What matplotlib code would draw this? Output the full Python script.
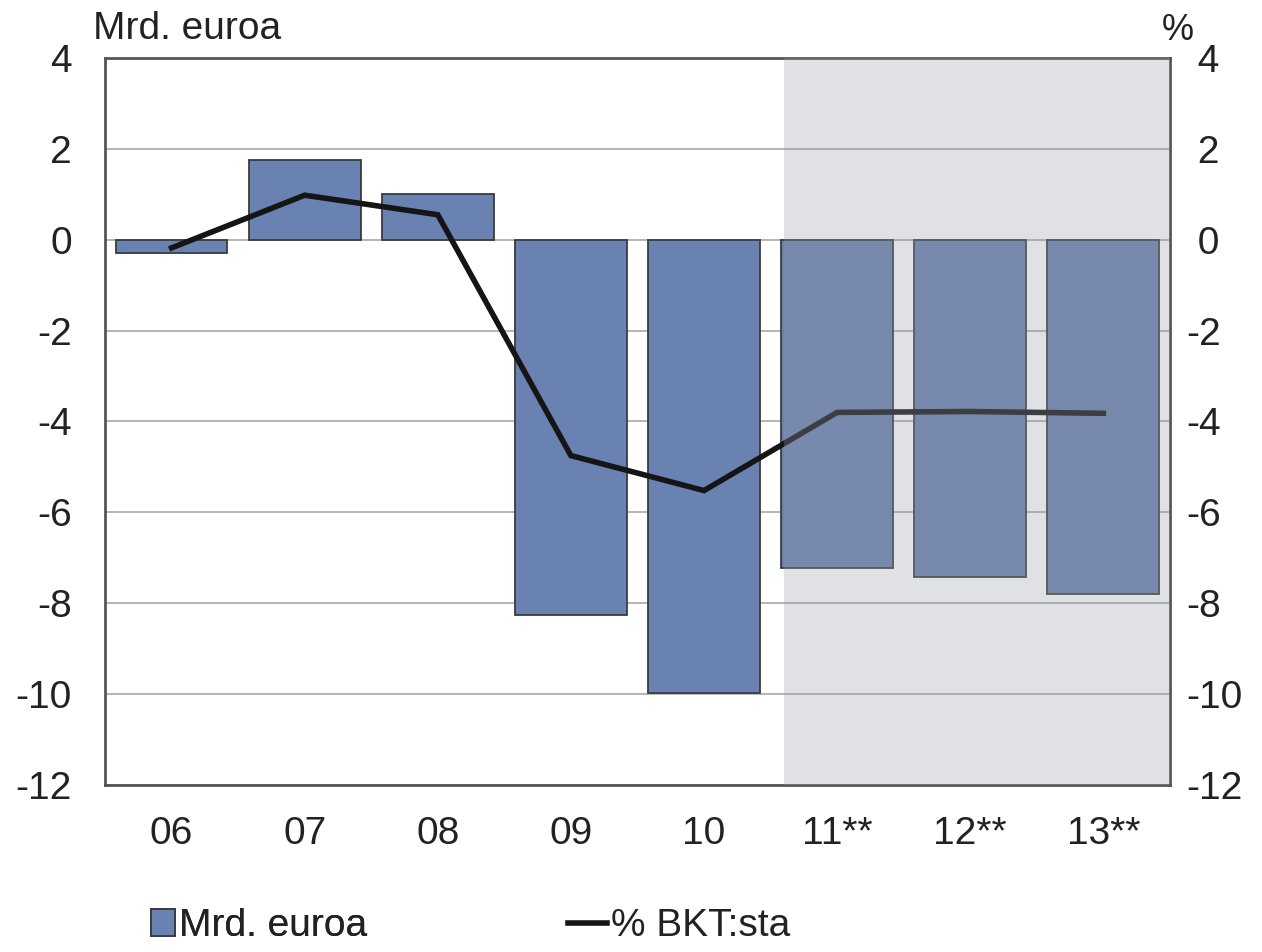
import numpy as np
import matplotlib
matplotlib.use("Agg")
import matplotlib.pyplot as plt
from matplotlib.patches import Patch
from matplotlib.lines import Line2D

plt.rcParams['font.family'] = ['Liberation Sans', 'DejaVu Sans']
plt.rcParams['axes.unicode_minus'] = False

# Data
years = ["06", "07", "08", "09", "10", "11**", "12**", "13**"]
bars_mrd = [-0.3, 1.75, 1.0, -8.25, -9.97, -7.22, -7.42, -7.8]
line_pct = [-0.18, 0.98, 0.55, -4.75, -5.52, -3.8, -3.78, -3.82]
yticks = list(range(-12, 5, 2))
forecast_start = 4.6

bar_col = "#6a82b2"
fs = 28

fig = plt.figure(figsize=(12.62, 9.52), dpi=100)
ax = fig.add_axes([0.0832, 0.1754, 0.8438, 0.7637])

x = np.arange(len(years))
ax.set_axisbelow(True)
ax.grid(True, axis='y', color='#a8a8a8', linewidth=1.2)
ax.bar(x, bars_mrd, width=0.84, color=bar_col, edgecolor='#3a3a3a',
       linewidth=1.3, zorder=2)
ax.plot(x, line_pct, color='#151515', linewidth=4, zorder=3,
        solid_joinstyle='miter')

# forecast shading laid over everything
ax.axvspan(forecast_start, len(years) - 0.5, color='#989ea8', alpha=0.3,
           linewidth=0, zorder=4)

ax.set_xlim(-0.5, len(years) - 0.5)
ax.set_ylim(-12, 4)
ax.set_yticks(yticks)
ax.set_xticks(x)
ax.set_xticklabels(years)
ax.tick_params(axis='x', length=0, pad=22, labelsize=fs, colors='#222222')
ax.tick_params(axis='y', length=0, pad=24, labelsize=fs, colors='#222222')
for s in ax.spines.values():
    s.set_color('#555555')
    s.set_linewidth(2)

# right axis: Excel-style labels, room kept for the minus sign
ax2 = ax.twinx()
ax2.set_ylim(-12, 4)
ax2.set_yticks(yticks)
ax2.set_yticklabels([str(v) if v < 0 else " " + str(v) for v in yticks])
ax2.tick_params(axis='y', length=0, pad=12, labelsize=fs, colors='#222222')
for s in ax2.spines.values():
    s.set_visible(False)

fig.text(0.074, 0.951, "Mrd. euroa", fontsize=fs, color='#222222',
         ha='left', va='bottom')
fig.text(0.946, 0.950, "%", fontsize=fs - 2, color='#222222',
         ha='right', va='bottom')

leg1 = fig.legend(handles=[Patch(facecolor=bar_col, edgecolor='#3a3a3a',
                                 linewidth=1.3)],
                  labels=["Mrd. euroa"], loc='center left',
                  bbox_to_anchor=(0.120, 0.027), frameon=False, fontsize=fs,
                  handlelength=0.6, handleheight=0.7, handletextpad=0.1,
                  borderaxespad=0, borderpad=0)
leg2 = fig.legend(handles=[Line2D([], [], color='#151515', linewidth=4)],
                  labels=["% BKT:sta"], loc='center left',
                  bbox_to_anchor=(0.450, 0.027), frameon=False, fontsize=fs,
                  handlelength=1.0, handletextpad=0.1,
                  borderaxespad=0, borderpad=0)
for lg in (leg1, leg2):
    for t in lg.get_texts():
        t.set_color('#222222')
fig.add_artist(leg1)

fig.savefig("out.png", dpi=100)
